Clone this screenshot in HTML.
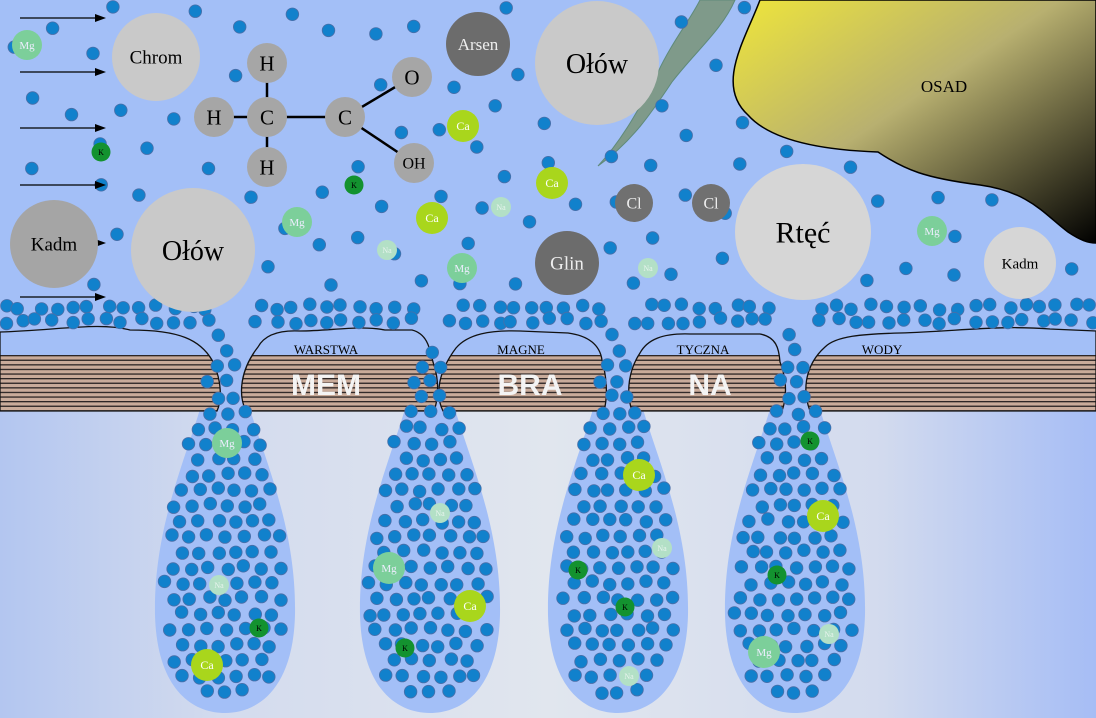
<!DOCTYPE html>
<html><head><meta charset="utf-8"><style>
html,body{margin:0;padding:0;width:1096px;height:718px;overflow:hidden;background:#a3bff7}
svg{display:block}
text{font-family:"Liberation Serif",serif}
</style></head><body>
<svg id="s" width="1096" height="718" viewBox="0 0 1096 718" xmlns="http://www.w3.org/2000/svg">
<defs>
<linearGradient id="low" x1="0" x2="1" y1="0" y2="0">
<stop offset="0" stop-color="#b3c6f0"/><stop offset="0.2" stop-color="#d3dbee"/><stop offset="0.5" stop-color="#e1e6ee"/><stop offset="0.8" stop-color="#d3dbee"/><stop offset="1" stop-color="#a6bdf5"/></linearGradient>
<linearGradient id="osad" x1="0" y1="0" x2="1" y2="1">
<stop offset="0" stop-color="#efe63a"/><stop offset="0.45" stop-color="#b8b070"/><stop offset="1" stop-color="#000"/></linearGradient>
<pattern id="str" width="20" height="4.6" patternUnits="userSpaceOnUse" y="355">
<rect width="20" height="4.6" fill="#c9ab9a"/><rect y="0" width="20" height="1.3" fill="#2b2424"/></pattern>
<clipPath id="band"><rect x="0" y="355" width="1096" height="57"/></clipPath>
</defs>
<rect x="0" y="411" width="1096" height="307" fill="url(#low)"/>
<path d="M760,0 C745,40 715,85 748,115 C770,140 820,150 878,152 C905,170 925,178 980,185 C1030,192 1045,215 1068,232 C1080,240 1088,243 1096,243 L1096,0 Z" fill="url(#osad)" stroke="#000" stroke-width="1.5"/>
<text x="944" y="92" font-size="17" text-anchor="middle">OSAD</text>
<path d="M700,0 L735,0 C722,30 695,52 672,82 C652,112 632,142 598,166 C622,140 640,108 658,72 C672,42 690,20 700,0 Z" fill="#7f9a8a" stroke="#5f8a7a" stroke-width="1"/>
<g id="segs"></g>
<g id="dots"></g>
<g id="ions"></g>
</svg>
<script>
var NS="http://www.w3.org/2000/svg",s=document.getElementById('s');
function el(t,a,p,txt){var e=document.createElementNS(NS,t);for(var k in a)e.setAttribute(k,a[k]);if(txt!=null)e.textContent=txt;(p||s).appendChild(e);return e;}
var seed=7;function r(){seed=(seed*16807)%2147483647;return seed/2147483647;}
var segs=document.getElementById('segs'),dots=document.getElementById('dots'),ions=document.getElementById('ions');
var drops=[225,430,618,795];
drops.forEach(function(c){var d="M"+(c-12)+",345 C"+(c-16)+",420 "+(c-72)+",500 "+(c-70)+",615 C"+(c-68)+",690 "+(c-32)+",713 "+c+",713 C"+(c+32)+",713 "+(c+68)+",690 "+(c+70)+",615 C"+(c+72)+",500 "+(c+16)+",420 "+(c+12)+",345 Z";
el('path',{d:d,fill:'#a3bff7'},segs);});
var shapes=[
"M0,332 C60,330 100,322 130,330 C180,330 200,340 212,360 C222,380 222,400 217,411 L0,411 Z",
"M246,411 C238,395 240,370 258,347 C265,334 280,330 300,331 C330,331 360,325 385,330 L412,330 C428,334 430,350 433,362 C440,382 438,400 434,411 Z",
"M443,411 C435,395 438,372 456,348 C468,334 490,330 520,331 L568,333 C590,336 600,346 602,360 C608,382 607,400 604,411 Z",
"M632,411 C625,390 630,368 640,353 C647,340 662,333 690,334 L760,334 C776,337 779,348 780,362 C788,382 786,400 782,411 Z",
"M810,411 C802,390 805,365 825,347 C836,336 862,334 900,333 C960,331 1000,325 1050,329 L1096,331 L1096,411 Z"];
shapes.forEach(function(d){el('path',{d:d,fill:'#a3bff7'},segs);el('path',{d:d,fill:'url(#str)','clip-path':'url(#band)'},segs);el('path',{d:d,fill:'none',stroke:'#111','stroke-width':1.3},segs);});
[["WARSTWA",326],["MAGNE",521],["TYCZNA",703],["WODY",882]].forEach(function(a){el('text',{x:a[1],y:354,'font-size':13,'text-anchor':'middle'},segs,a[0]);});
[["MEM",326],["BRA",530],["NA",710]].forEach(function(a){el('text',{x:a[1],y:395,'font-size':30,'font-weight':'bold','text-anchor':'middle',fill:'#f4f4f4',style:'font-family:"Liberation Sans",sans-serif'},segs,a[0]);});
function dot(x,y){el('circle',{cx:x.toFixed(1),cy:y.toFixed(1),r:6.3,fill:'#1181cc',stroke:'#4a6ea8','stroke-width':0.8},dots);}
function inDrop(c,x,y){if(y<300||y>705)return false;var hw;
 if(y<345)hw=14;else if(y<615){var t=(y-345)/270;hw=12+58*Math.sin(t*Math.PI/2)*0.98;}else{var t=(y-615)/95;hw=66*Math.sqrt(Math.max(0,1-t*t));}
 return Math.abs(x-c)<hw-6;}
drops.forEach(function(c){for(var y=335,row=0;y<706;y+=15.5,row++){for(var x=c-80+(row%2)*9;x<c+80;x+=18){var xx=x+(r()-0.5)*5,yy=y+(r()-0.5)*4;if(inDrop(c,xx,yy))dot(xx,yy);}}});
var big=[[156,57,46],[193,250,64],[54,244,46],[597,63,64],[803,232,70],[1020,263,38],[478,44,34],[567,263,34],[267,63,22],[214,117,22],[267,117,22],[345,117,22],[267,167,22],[412,77,22],[414,163,22],[305,117,60],[944,92,20]];
for(var x=4;x<1096;x+=17){for(var k=0;k<2;k++){var xx=x+(r()-0.5)*8,yy=307+k*14+(r()-0.5)*6;var bad=false;drops.forEach(function(c){if(Math.abs(xx-c)<16)bad=true;});if(!bad)dot(xx,yy);}}
function inOsad(x,y){if(x>745&&y<150)return true;if(x>880&&y<185)return true;if(x>1000&&y<240)return true;if(x>600&&x<740&&y<150&&(x-600)>(150-y)*0.9-30&&(x-600)<(150-y)*0.9+20)return true;return false;}
var pts=[];var tries=0;
while(pts.length<80&&tries<5000){tries++;var x=10+r()*1080,y=6+r()*280;if(x<110&&y<300&&Math.abs((y-18)%56)<8)continue;if(inOsad(x,y))continue;var ok=true;
 big.forEach(function(b){if(Math.hypot(x-b[0],y-b[1])<b[2]+10)ok=false;});pts.forEach(function(p){if(Math.hypot(x-p[0],y-p[1])<38)ok=false;});if(ok)pts.push([x,y]);}
pts.forEach(function(p){dot(p[0],p[1]);});
[18,72,128,185,243,297].forEach(function(y){el('line',{x1:20,y1:y,x2:98,y2:y,stroke:'#000','stroke-width':1.2},ions);el('path',{d:'M106,'+y+' L95,'+(y-4)+' L95,'+(y+4)+' Z',fill:'#000'},ions);});
function ion(x,y,rad,fill,t,fs,col){el('circle',{cx:x,cy:y,r:rad,fill:fill},ions);el('text',{x:x,y:y+fs*0.35,'font-size':fs,'text-anchor':'middle',fill:col||'#000'},ions,t);}
[[267,63,267,117],[214,117,267,117],[267,117,345,117],[267,117,267,167],[345,117,412,77],[345,117,414,163]].forEach(function(l){el('line',{x1:l[0],y1:l[1],x2:l[2],y2:l[3],stroke:'#000','stroke-width':2.5},ions);});
ion(156,57,44,'#c9c9c9','Chrom',19);
ion(193,250,62,'#c9c9c9','Ołów',28);
ion(54,244,44,'#a5a5a5','Kadm',19);
ion(597,63,62,'#c9c9c9','Ołów',28);
ion(803,232,68,'#d6d6d6','Rtęć',30);
ion(1020,263,36,'#d6d6d6','Kadm',15);
ion(478,44,32,'#6c6c6c','Arsen',17,'#eee');
ion(567,263,32,'#6c6c6c','Glin',19,'#eee');
ion(634,203,19,'#707070','Cl',16,'#eee');ion(711,203,19,'#707070','Cl',16,'#eee');
[[267,63,'H'],[214,117,'H'],[267,117,'C'],[345,117,'C'],[267,167,'H'],[412,77,'O'],[414,163,'OH']].forEach(function(a){ion(a[0],a[1],20,'#a6a6a6',a[2],a[2]=='OH'?16:21);});
function Mg(x,y,rr){ion(x,y,rr||15,'#7ccf9a','Mg',11,'#eef');}
function Ca(x,y){ion(x,y,16,'#a9d61c','Ca',12,'#fff');}
function K(x,y){ion(x,y,9.5,'#13922f','K',8,'#000');}
function Na(x,y){ion(x,y,10,'#b3e0c6','Na',8,'#e8f4ee');}
Mg(27,45);Mg(297,222);Mg(462,268);Mg(932,231);
Ca(463,126);Ca(552,183);Ca(432,218);
K(101,152);K(354,185);
Na(501,207);Na(387,250);Na(648,268);
Mg(227,443);Na(440,513);Mg(389,568,16);Ca(470,606);K(405,648);Na(219,585);K(259,628);Ca(207,665);
Ca(639,475);Na(662,548);K(578,570);K(625,607);Na(629,676);
K(810,441);Ca(823,516);K(777,575);Na(829,634);Mg(764,652,16);
</script>
</body></html>
